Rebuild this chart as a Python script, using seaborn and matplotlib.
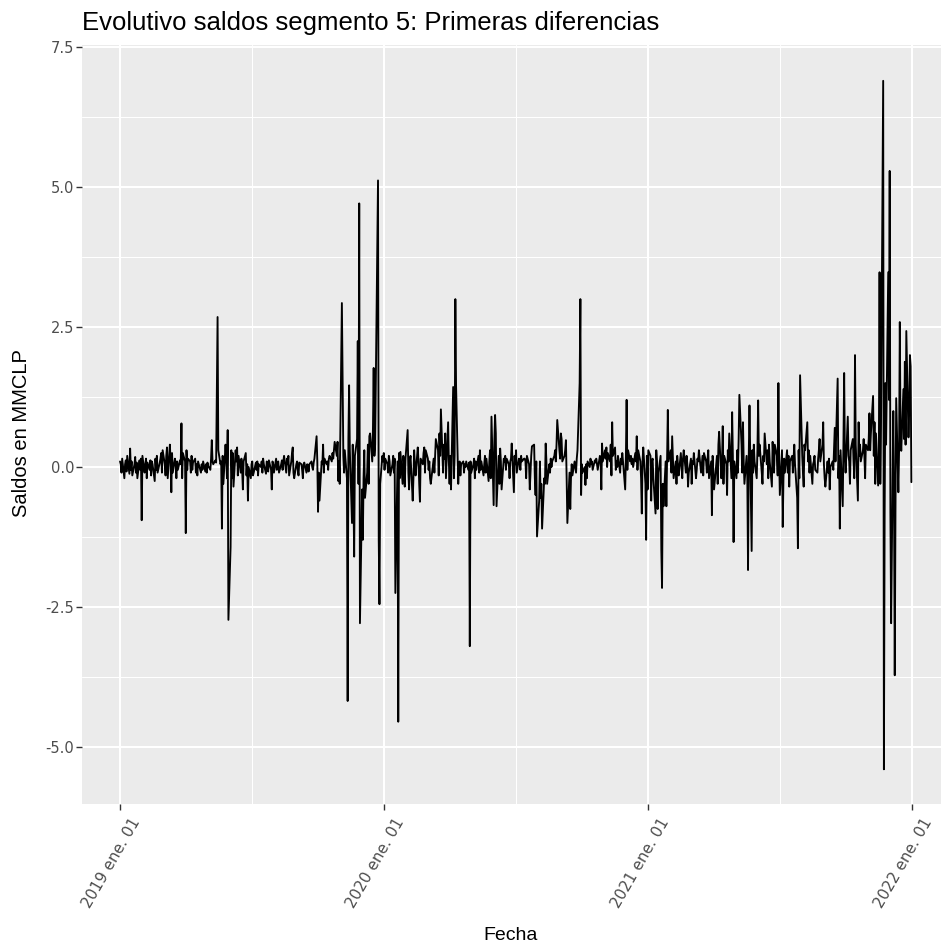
import numpy as np
import pandas as pd
import matplotlib
matplotlib.use("Agg")
import matplotlib.pyplot as plt
import matplotlib.transforms as mtransforms
import seaborn as sns

# ---- data: first differences of balances, business days 2019-01-01 .. 2021-12-31 ----
fecha_inicio = "2019-01-01"
frecuencia = "B"
saldos_diff = [
    0.10, 0.05, -0.10, 0.15, -0.20, 0.05, 0.12, -0.08, 0.20, -0.12, 0.33, -0.05, 0.10, -0.15, 0.05, 0.18, -0.10, 0.08, -0.20, 0.12,
    -0.05, 0.15, -0.95, 0.20, -0.10, 0.05, 0.15, -0.20, 0.08, -0.05, 0.12, -0.15, 0.10, 0.05, -0.25, 0.15, -0.05, 0.20, -0.10, 0.08,
    0.15, 0.25, -0.10, 0.30, 0.05, -0.15, 0.20, 0.35, -0.20, 0.40, 0.10, -0.45, 0.25, -0.10, 0.15, 0.05, -0.20, 0.10, -0.05, 0.12,
    0.05, 0.78, -0.20, 0.25, 0.10, -1.18, 0.30, -0.05, 0.15, 0.10, -0.10, 0.20, -0.05, 0.08, 0.15, -0.10, 0.05, -0.15, 0.10, -0.05,
    -0.10, 0.05, -0.05, 0.10, -0.08, 0.05, -0.10, 0.08, 0.02, -0.05, 0.15, 0.48, 0.10, 0.05, 0.12, 0.08, 1.30, 2.68, 0.30, 0.05,
    0.10, -1.10, 0.20, -0.30, 0.40, 0.15, -0.20, 0.66, -2.73, -1.43, 0.30, -0.20, 0.25, -0.35, 0.30, 0.10, 0.35, -0.15, 0.20, -0.10,
    0.15, -0.05, -0.40, 0.10, 0.25, -0.15, 0.05, -0.60, 0.00, -0.20, 0.05, 0.10, -0.15, -0.10, 0.08, -0.05, 0.10, -0.15, 0.05, 0.00,
    0.10, -0.10, 0.15, 0.05, -0.12, 0.10, 0.05, -0.08, 0.12, -0.05, -0.40, 0.10, 0.05, -0.10, 0.15, -0.05, 0.08, 0.10, -0.10, 0.05,
    0.12, -0.05, 0.10, 0.20, -0.10, 0.15, 0.05, 0.20, -0.15, 0.10, 0.25, 0.35, -0.10, -0.20, 0.05, 0.10, -0.05, -0.15, 0.08, 0.05,
    -0.05, -0.20, 0.05, 0.08, -0.10, 0.05, 0.02, -0.08, 0.05, 0.10, 0.00, -0.05, 0.08, 0.15, 0.55, 0.10, -0.80, -0.10, -0.60, 0.10,
    0.05, 0.40, -0.10, 0.15, 0.05, 0.10, -0.05, 0.15, 0.20, 0.10, 0.25, 0.15, 0.30, 0.45, 0.20, 0.45, -0.25, 0.10, -0.30, 2.93,
    1.46, 0.20, -0.10, 0.30, -0.20, -4.18, 0.50, 1.46, 0.30, -1.00, 0.40, -0.50, -1.60, 0.20, 0.50, 2.25, -0.30, 4.71, -2.79, -0.40,
    -1.30, -0.20, 0.30, -0.55, -0.10, 0.40, -0.30, 0.55, 0.60, 0.10, 0.70, 1.77, 0.20, 0.40, 3.97, 5.12, -1.30, -2.45, -0.30, 0.20,
    0.10, 0.25, -0.05, 0.15, 0.05, -0.10, 0.20, 0.10, -0.15, 0.05, 0.20, -0.10, 0.15, -2.25, 0.10, -4.55, 0.25, -0.20, 0.27, -0.30,
    0.20, 0.05, -0.35, 0.15, 0.66, -0.10, -0.40, 0.10, 0.20, -0.60, -0.20, 0.30, 0.05, -0.15, 0.35, 0.10, -0.30, -0.62, 0.15, 0.05,
    0.25, 0.35, -0.10, 0.30, 0.15, -0.05, 0.10, -0.20, -0.30, 0.05, 0.15, -0.10, 0.20, 0.50, 0.30, -0.15, 0.60, 0.20, 1.03, -0.10,
    0.40, 0.15, 0.60, -0.20, 0.80, 0.10, -0.30, 0.20, -0.40, 1.43, -0.20, 0.20, 3.00, 1.45, -0.30, 0.05, 0.10, -0.15, 0.05, 0.10,
    -0.10, 0.05, 0.00, 0.10, -0.05, 0.08, -3.20, 0.10, -0.10, 0.05, 0.15, -0.20, 0.10, -0.05, 0.20, -0.10, 0.30, -0.05, 0.10, -0.15,
    0.05, 0.20, -0.10, 0.15, -0.25, 0.10, 0.30, -0.20, 0.90, -0.68, 0.48, 0.93, 0.60, -0.70, 0.20, -0.30, 0.33, 0.10, -0.40, 0.15,
    0.10, 0.20, -0.05, 0.15, 0.05, -0.20, 0.10, 0.15, 0.42, -0.45, 0.20, 0.05, 0.30, -0.10, 0.15, 0.10, -0.05, 0.20, 0.10, 0.15,
    0.15, 0.10, -0.20, 0.20, 0.05, -0.40, -0.10, 0.20, 0.37, 0.40, -0.20, -0.50, 0.10, -1.24, -0.60, 0.10, -0.55, -0.30, -1.10, -0.20,
    -0.30, 0.42, 0.10, -0.30, 0.05, -0.10, 0.15, 0.00, 0.10, 0.20, 0.30, 0.10, 0.40, 0.84, 0.30, 0.15, 0.60, 0.50, 0.10, 0.20,
    0.30, 0.48, -0.20, -1.00, -0.10, -0.75, -0.20, 0.05, -0.15, 0.10, 0.00, -0.10, 0.15, 0.30, 1.50, 3.00, -0.50, 0.05, -0.10, 0.00,
    -0.32, 0.05, -0.20, 0.10, 0.00, 0.15, 0.05, 0.10, -0.05, 0.12, 0.08, 0.15, 0.05, -0.05, 0.20, 0.10, -0.40, 0.42, 0.10, 0.30,
    0.15, 0.35, 0.00, 0.25, 0.10, 0.40, -0.15, 0.80, 0.20, 0.35, -0.05, 0.10, 0.00, 0.20, -0.10, 0.15, 0.05, 0.25, 0.10, -0.40,
    0.20, 1.20, -0.05, 0.30, 0.10, 0.20, 0.05, 0.15, 0.00, 0.25, 0.10, 0.55, -0.05, 0.30, 0.10, -0.20, -0.83, 0.10, 0.35, -0.30,
    -1.30, 0.20, -0.40, 0.30, 0.20, -0.60, 0.10, 0.15, -0.20, -0.83, 0.30, 0.10, -0.75, -0.10, 0.20, -1.48, -2.16, -0.30, -0.70, 0.10,
    -0.70, 0.20, 1.02, 0.10, 0.30, -0.10, 0.55, 0.15, -0.20, 0.10, -0.30, 0.20, 0.05, -0.15, 0.25, 0.00, -0.20, 0.15, 0.30, -0.10,
    0.20, 0.05, -0.35, -0.10, 0.15, -0.30, 0.10, 0.05, 0.25, -0.20, -0.05, 0.15, 0.10, 0.30, -0.10, 0.05, 0.20, -0.15, 0.25, 0.10,
    -0.10, 0.15, 0.30, -0.20, 0.10, -0.86, 0.20, -0.10, -0.40, 0.05, 0.20, -0.30, 0.40, 0.63, -0.20, 0.10, 0.73, -0.30, 0.20, 0.05,
    -0.50, 0.30, 0.10, 0.60, -0.20, 0.98, 0.20, -1.34, 0.10, -0.20, 0.30, -0.10, 0.50, 1.29, 0.40, -0.10, 0.80, 0.10, -0.30, 0.20,
    -0.20, -1.84, 0.20, 1.10, -1.50, 0.30, -0.10, 0.40, 0.10, -0.20, 0.30, 1.19, 0.20, 0.40, -0.10, -0.30, 0.20, 0.10, 0.60, 0.05,
    0.30, -0.20, 0.40, 0.10, -0.35, 0.45, 0.15, -0.10, 0.40, 0.20, -0.15, 1.50, 0.20, -0.50, 0.30, -1.07, -0.20, 0.15, -0.10, 0.30,
    -0.10, 0.20, -0.35, 0.10, 0.20, -0.10, 0.15, 0.40, 0.05, -0.55, -1.45, 0.30, -0.20, 1.64, 0.20, -0.10, -0.35, 0.40, 0.30, 0.80,
    0.10, 0.30, -0.10, 0.20, -0.30, 0.05, 0.10, 0.20, -0.05, -0.10, 0.15, 0.30, 0.50, 0.10, 0.40, 0.80, 0.05, -0.20, -0.35, 0.10,
    -0.10, 0.15, -0.40, 0.00, 0.10, -0.05, 0.30, 0.70, 0.10, 1.58, -0.20, 0.20, -1.10, 0.30, -0.70, 0.40, 1.68, 0.20, -0.10, 0.90,
    0.20, 0.10, -0.30, 0.30, 0.50, 0.10, -0.20, 2.00, 0.40, -0.60, 0.80, 0.20, 0.40, 0.10, 0.30, 0.50, 0.20, -0.20, 0.40, 0.30,
    0.50, 0.96, 0.30, 0.60, 1.27, 0.20, 0.80, -0.30, 0.60, -0.33, 0.20, 3.48, -0.30, 0.80, 6.90, -5.40, -0.87, 1.50, 0.40, 3.48,
    1.20, 5.29, -0.80, -2.79, 1.00, -0.50, -3.72, -0.80, 1.23, -0.45, 0.30, 2.59, 0.60, 0.29, 1.39, 0.50, 1.88, 0.40, 2.43, 0.53,
    1.00, 2.00, 1.80, -0.27,
]

x_tick_fechas = ["2019-01-01", "2020-01-01", "2021-01-01", "2022-01-01"]
x_tick_labels = ["2019 ene. 01", "2020 ene. 01", "2021 ene. 01", "2022 ene. 01"]
y_ticks = [-5.0, -2.5, 0.0, 2.5, 5.0, 7.5]
y_tick_labels = ["-5.0", "-2.5", "0.0", "2.5", "5.0", "7.5"]

titulo = "Evolutivo saldos segmento 5: Primeras diferencias"
x_titulo = "Fecha"
y_titulo = "Saldos en MMCLP"

# ---- style ----
sns.set_theme(style="darkgrid")
plt.rcParams['font.family'] = ['Liberation Sans', 'DejaVu Sans']

W, H = 941, 947
fig = plt.figure(figsize=(W / 100, H / 100), dpi=100)
ax = fig.add_axes([82 / W, (H - 804) / H, (W - 82) / W, (804 - 45) / H])

df = pd.DataFrame({
    "Fecha": pd.bdate_range(fecha_inicio, periods=len(saldos_diff), freq=frecuencia),
    "Saldo": saldos_diff,
})
sns.lineplot(data=df, x="Fecha", y="Saldo", color="black", linewidth=1.35, ax=ax)

ax.set_facecolor("#EBEBEB")
inicio = pd.Timestamp(fecha_inicio)
ax.set_xlim(inicio - pd.Timedelta(days=52.6), inicio + pd.Timedelta(days=1136))
ax.set_ylim(-6.02, 7.54)

majors = pd.to_datetime(x_tick_fechas)
ax.set_xticks(majors)
ax.set_xticklabels(x_tick_labels)
minors_x = majors[:-1] + (majors[1:] - majors[:-1]) / 2
ax.set_xticks(minors_x, minor=True)

ax.set_yticks(y_ticks)
ax.set_yticklabels(y_tick_labels)
yt = np.array(y_ticks)
ax.set_yticks(list((yt[:-1] + yt[1:]) / 2), minor=True)

ax.grid(which="major", color="white", linewidth=1.5)
ax.grid(which="minor", color="white", linewidth=0.75)
ax.set_axisbelow(True)
for s in ax.spines.values():
    s.set_visible(False)

ax.tick_params(which="major", length=4, width=1, color="#333333",
               labelcolor="#4D4D4D", pad=1.5, bottom=True, left=True)
ax.tick_params(which="minor", length=0)

for lab in ax.get_yticklabels():
    lab.set_fontfamily(["DejaVu Sans"])
    lab.set_fontsize(10.5)

off = mtransforms.ScaledTranslation(17 / 100, -8 / 100, fig.dpi_scale_trans)
for lab in ax.get_xticklabels():
    lab.set_fontfamily(["DejaVu Sans"])
    lab.set_fontsize(11)
    lab.set_rotation(60)
    lab.set_ha("right")
    lab.set_va("center")
    lab.set_rotation_mode("anchor")
    lab.set_transform(lab.get_transform() + off)

ax.set_xlabel("")
ax.set_ylabel("")

fig.text(82 / W, 1 - 30 / H, titulo, ha="left", va="baseline",
         fontsize=18.5, color="black")
fig.text(511 / W, 1 - 935 / H, x_titulo, ha="center", va="center",
         fontsize=14, color="black")
fig.text(22 / W, 1 - 433 / H, y_titulo, ha="center", va="center",
         rotation=90, fontsize=14.5, color="black")

fig.savefig("out.png", dpi=100)
